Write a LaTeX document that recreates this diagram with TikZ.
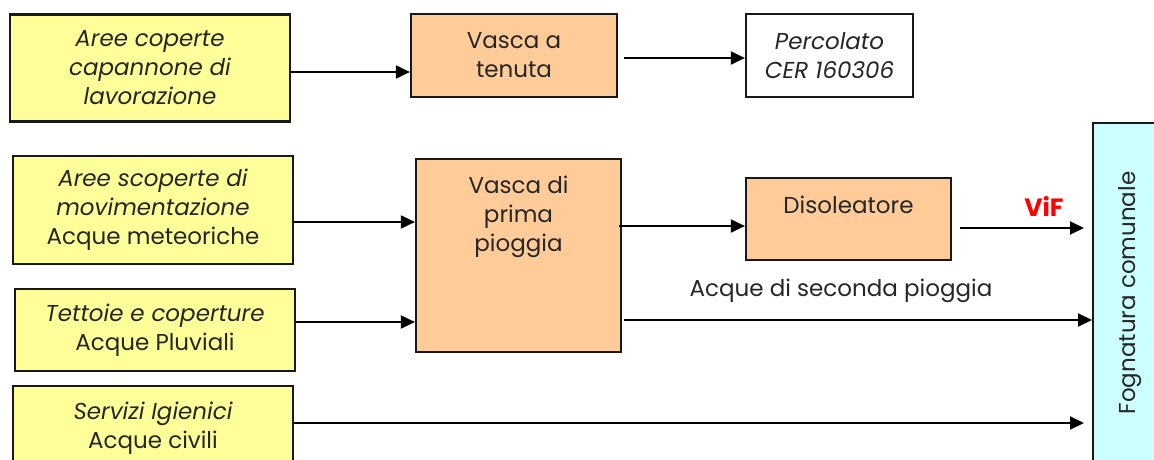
\documentclass[tikz,border=0pt]{standalone}
\usepackage{fontspec}
\setmainfont{Poppins}
\usetikzlibrary{arrows.meta,calc}
\definecolor{yel}{HTML}{FFFF99}
\definecolor{ora}{HTML}{FFCC99}
\definecolor{cya}{HTML}{CCFFFF}
\definecolor{vif}{HTML}{FF0000}
\begin{document}
\begin{tikzpicture}[x=1pt,y=-1pt,
  every node/.style={font=\fontsize{23}{29}\selectfont, text=black!85},
  boxy/.style={draw=black!90, line width=2.2pt, fill=yel, align=center, inner sep=0pt},
  boxo/.style={draw=black!90, line width=2.2pt, fill=ora, align=center, inner sep=0pt},
  boxw/.style={draw=black!90, line width=2.2pt, fill=white, align=center, inner sep=0pt},
  boxc/.style={draw=black!90, line width=2pt, fill=cya, inner sep=0pt},
  plain/.style={align=center, inner sep=0pt},
  arr/.style={line width=2pt, -{Triangle[length=14pt,width=13pt]}}]
\useasboundingbox (0,0) rectangle (1154,460);
\clip (0,0) rectangle (1154,460);
% sources
\node[boxy, minimum width=280, minimum height=107] (b1) at (150,68) {\itshape Aree coperte\\\itshape capannone di\\\itshape lavorazione};
\node[boxy, minimum width=280, minimum height=108] (b2) at (153,210) {\itshape Aree scoperte di\\\itshape movimentazione\\Acque meteoriche};
\node[boxy, minimum width=280, minimum height=82] (b3) at (155,330) {\itshape Tettoie e coperture\\Acque Pluviali};
\node[boxy, minimum width=280, minimum height=84] (b4) at (153,428) {\itshape Servizi Igienici\\Acque civili};
% tanks
\node[boxo, minimum width=206, minimum height=83] (vt) at (514,55.5) {Vasca a\\tenuta};
\node[boxw, minimum width=167, minimum height=83] (pc) at (829.5,55.5) {\itshape Percolato\\\itshape CER 160306};
\node[boxo, minimum width=205, minimum height=193] (vp) at (518.5,255.5) {};
\node[plain, anchor=north] (vptext) at (518.5,176) {Vasca di\\prima\\pioggia};
\node[boxo, minimum width=205, minimum height=82] (dis) at (848.5,219) {};
\node[plain] (distext) at (848.5,205) {Disoleatore};
\node[boxc, minimum width=80, minimum height=360, anchor=north west] (fog) at (1092,122) {};
\node[plain, rotate=90] (fogtext) at (1130,293) {Fognatura comunale};
% labels
\node[plain, text=vif, font=\fontsize{25}{28}\selectfont\bfseries] (viflab) at (1044,206) {ViF};
\node[plain] (sec) at (841,291) {Acque di seconda pioggia};
% connectors
\coordinate (a1s) at (b1.east |- 0,72);
\coordinate (a1e) at (vt.west |- 0,72);
\draw[arr] (a1s) -- (a1e);
\coordinate (a2s) at (624,58);
\draw[arr] (a2s) -- (pc.west |- a2s);
\coordinate (a3s) at (b2.east |- 0,222);
\draw[arr] (a3s) -- (vp.west |- a3s);
\coordinate (a4s) at (b3.east |- 0,322);
\draw[arr] (a4s) -- (vp.west |- a4s);
\coordinate (a5s) at (619,226);
\draw[arr] (a5s) -- (dis.west |- a5s);
\coordinate (a6s) at (960,228);
\coordinate (a6e) at (1084,228);
\draw[arr] (a6s) -- (a6e);
\coordinate (a7s) at (624,320);
\draw[arr] (a7s) -- (fog.west |- a7s);
\coordinate (a8s) at (b4.east |- 0,423);
\coordinate (a8e) at (1084,423);
\draw[arr] (a8s) -- (a8e);
\end{tikzpicture}
\end{document}
